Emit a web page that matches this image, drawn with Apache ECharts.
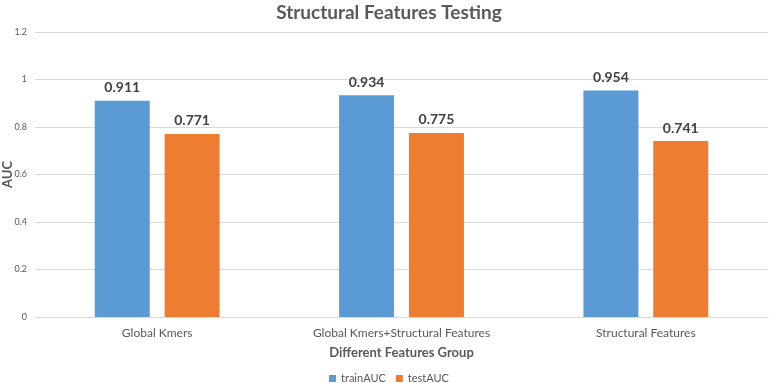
<!DOCTYPE html>
<html>
<head>
<meta charset="utf-8">
<script src="https://cdn.jsdelivr.net/npm/echarts@6/dist/echarts.min.js"></script>
<style>
  html, body { margin: 0; padding: 0; background: #fff; }
  #chart { width: 778px; height: 383px; }
</style>
</head>
<body>
<div id="chart"></div>
<script>
const categories = ['Global Kmers', 'Global Kmers+Structural Features', 'Structural Features']
const trainAUC = [0.911, 0.934, 0.954]
const testAUC = [0.771, 0.775, 0.741]

const chart = echarts.init(document.getElementById('chart'))
const font = 'Lato'
const textColor = '#595959'

const labelStyle = {
  show: true,
  position: 'top',
  distance: 6,
  color: '#404040',
  fontFamily: font,
  fontWeight: 'bold',
  fontSize: 14,
  formatter: function(p) {
    return p.value.toFixed(3)
  }
}

chart.setOption({
  animation: false,
  title: {
    text: 'Structural Features Testing',
    left: 'center',
    top: -2,
    textStyle: {
      color: textColor,
      fontFamily: font,
      fontWeight: 'bold',
      fontSize: 19
    }
  },
  grid: {
    left: 35,
    right: 10,
    top: 32,
    bottom: 66,
    containLabel: false,
    outerBoundsMode: 'none'
  },
  legend: {
    top: 368,
    left: 'center',
    itemWidth: 7,
    itemHeight: 7,
    itemGap: 10,
    icon: 'rect',
    textStyle: {
      color: textColor,
      fontFamily: font,
      fontSize: 11
    },
    data: ['trainAUC', 'testAUC']
  },
  xAxis: {
    type: 'category',
    data: categories,
    name: 'Different Features Group',
    nameLocation: 'middle',
    nameGap: 29,
    nameMoveOverlap: false,
    nameTextStyle: {
      color: textColor,
      fontFamily: font,
      fontWeight: 'bold',
      fontSize: 13
    },
    axisLine: { lineStyle: { color: '#d9d9d9' } },
    axisTick: { show: false },
    axisLabel: {
      color: textColor,
      fontFamily: font,
      fontSize: 12,
      margin: 10
    }
  },
  yAxis: {
    type: 'value',
    min: 0,
    max: 1.2,
    interval: 0.2,
    name: 'AUC',
    nameLocation: 'middle',
    nameGap: 21,
    nameMoveOverlap: false,
    nameTextStyle: {
      color: textColor,
      fontFamily: font,
      fontWeight: 'bold',
      fontSize: 13
    },
    axisLine: { show: false },
    axisTick: { show: false },
    splitLine: { lineStyle: { color: '#d9d9d9' } },
    axisLabel: {
      color: textColor,
      fontFamily: font,
      fontSize: 9,
      margin: 8,
      formatter: function(v) {
        return String(Math.round(v * 10) / 10)
      }
    }
  },
  series: [
    {
      name: 'trainAUC',
      type: 'bar',
      barWidth: 55,
      barGap: '27%',
      itemStyle: { color: '#5b9bd5' },
      label: labelStyle,
      data: trainAUC
    },
    {
      name: 'testAUC',
      type: 'bar',
      barWidth: 55,
      itemStyle: { color: '#ed7d31' },
      label: labelStyle,
      data: testAUC
    }
  ]
})
</script>
</body>
</html>
